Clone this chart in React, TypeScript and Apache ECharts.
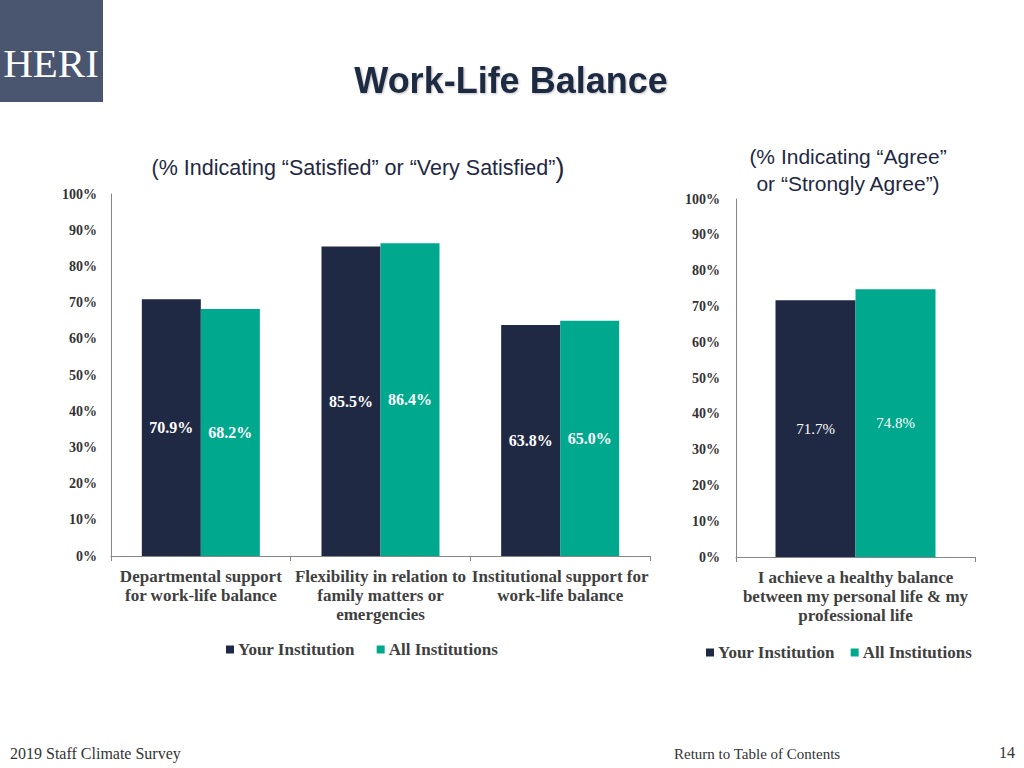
import React, { useEffect, useRef } from "react";
import * as echarts from "echarts";

const leftCategories = [
  "Departmental support\nfor work-life balance",
  "Flexibility in relation to\nfamily matters or\nemergencies",
  "Institutional support for\nwork-life balance",
];
const leftYour = [70.9, 85.5, 63.8];
const leftAll = [68.2, 86.4, 65.0];

const rightCategories = [
  "I achieve a healthy balance\nbetween my personal life & my\nprofessional life",
];
const rightYour = [71.7];
const rightAll = [74.8];

const seriesNames = ["Your Institution", "All Institutions"];

const NAVY = "#1f2943";
const TEAL = "#00a88e";
const AXIS = "#868686";
const TXT = "#404040";
const SERIF = "'Liberation Serif', 'DejaVu Serif', serif";
const SANS = "'Liberation Sans', Arial, sans-serif";

export default function App() {
  const ref = useRef<HTMLDivElement>(null);

  useEffect(() => {
    if (!ref.current) return;
    const chart = echarts.init(ref.current, undefined, { renderer: "svg" });

    const yAxisBase = (grid: number, margin: number) => ({
      type: "value",
      gridIndex: grid,
      min: 0,
      max: 100,
      interval: 10,
      axisLine: { show: true, lineStyle: { color: AXIS, width: 1 } },
      axisTick: { show: false },
      splitLine: { show: false },
      axisLabel: {
        formatter: "{value}%",
        fontFamily: SERIF,
        fontWeight: "bold",
        fontSize: 14,
        color: "#333333",
        margin,
      },
    });

    const xAxisBase = (grid: number, data: string[]) => ({
      type: "category",
      gridIndex: grid,
      data,
      axisLine: { show: true, lineStyle: { color: AXIS, width: 1 } },
      axisTick: { show: true, length: 5, lineStyle: { color: AXIS } },
      axisLabel: {
        interval: 0,
        fontFamily: SERIF,
        fontWeight: "bold",
        fontSize: 17,
        lineHeight: 19,
        color: TXT,
        margin: 11,
      },
    });

    const label = (bold: boolean, size: number) => ({
      show: true,
      position: "inside",
      color: "#ffffff",
      fontFamily: SERIF,
      fontWeight: bold ? "bold" : "normal",
      fontSize: size,
      formatter: (p: any) => Number(p.value).toFixed(1) + "%",
    });

    const legendBase = (left: number, top: number, gap: number) => ({
      left,
      top,
      orient: "horizontal",
      data: seriesNames,
      icon: "rect",
      itemWidth: 8,
      itemHeight: 8,
      itemGap: gap,
      selectedMode: false,
      textStyle: {
        fontFamily: SERIF,
        fontWeight: "bold",
        fontSize: 17,
        color: TXT,
        padding: [0, 0, 0, -1],
      },
    });

    chart.setOption({
      animation: false,
      backgroundColor: "#ffffff",
      grid: [
        { left: 111, top: 194, width: 539, height: 362 },
        { left: 736, top: 199, width: 239, height: 358 },
      ],
      xAxis: [xAxisBase(0, leftCategories), xAxisBase(1, rightCategories)],
      yAxis: [yAxisBase(0, 14), yAxisBase(1, 16)],
      legend: [legendBase(221, 636, 22), legendBase(701, 639, 16)],
      series: [
        {
          name: seriesNames[0],
          type: "bar",
          xAxisIndex: 0,
          yAxisIndex: 0,
          data: leftYour,
          barWidth: 59,
          barGap: "0%",
          itemStyle: { color: NAVY },
          label: label(true, 16),
        },
        {
          name: seriesNames[1],
          type: "bar",
          xAxisIndex: 0,
          yAxisIndex: 0,
          data: leftAll,
          barWidth: 59,
          barGap: "0%",
          itemStyle: { color: TEAL },
          label: label(true, 16),
        },
        {
          name: seriesNames[0],
          type: "bar",
          xAxisIndex: 1,
          yAxisIndex: 1,
          data: rightYour,
          barWidth: 80,
          barGap: "0%",
          itemStyle: { color: NAVY },
          label: label(false, 15),
        },
        {
          name: seriesNames[1],
          type: "bar",
          xAxisIndex: 1,
          yAxisIndex: 1,
          data: rightAll,
          barWidth: 80,
          barGap: "0%",
          itemStyle: { color: TEAL },
          label: label(false, 15),
        },
      ],
      graphic: [
        {
          type: "rect",
          left: 0,
          top: 0,
          shape: { x: 0, y: 0, width: 103, height: 102 },
          style: { fill: "#4a5570" },
        },
        {
          type: "text",
          x: 51,
          y: 63,
          style: {
            text: "HERI",
            fill: "#ffffff",
            font: `41px ${SERIF}`,
            textAlign: "center",
            textVerticalAlign: "middle",
          },
        },
        {
          type: "text",
          x: 511,
          y: 80,
          style: {
            text: "Work-Life Balance",
            fill: "#1f2943",
            font: `bold 36px ${SANS}`,
            textAlign: "center",
            textVerticalAlign: "middle",
            textShadowColor: "rgba(0,0,0,0.25)",
            textShadowBlur: 2,
            textShadowOffsetX: 1,
            textShadowOffsetY: 1,
          },
        },
        {
          type: "text",
          x: 358,
          y: 168,
          style: {
            text: "{a|(% Indicating \u201cSatisfied\u201d or \u201cVery Satisfied\u201d}{b|)}",
            textAlign: "center",
            textVerticalAlign: "middle",
            rich: {
              a: { fontFamily: SANS, fontSize: 21.5, fill: "#1f2943", color: "#1f2943" },
              b: { fontFamily: SANS, fontSize: 27, fill: "#1f2943", color: "#1f2943" },
            },
          },
        },
        {
          type: "text",
          x: 848,
          y: 170,
          style: {
            text: "(% Indicating \u201cAgree\u201d\nor \u201cStrongly Agree\u201d)",
            fill: "#1f2943",
            font: `21px ${SANS}`,
            lineHeight: 27,
            textAlign: "center",
            textVerticalAlign: "middle",
          },
        },
        {
          type: "text",
          x: 10,
          y: 753,
          style: {
            text: "2019 Staff Climate Survey",
            fill: "#333333",
            font: `16px ${SERIF}`,
            textAlign: "left",
            textVerticalAlign: "middle",
          },
        },
        {
          type: "text",
          x: 674,
          y: 754,
          style: {
            text: "Return to Table of Contents",
            fill: "#333333",
            font: `15px ${SERIF}`,
            textAlign: "left",
            textVerticalAlign: "middle",
          },
        },
        {
          type: "text",
          x: 1015,
          y: 752,
          style: {
            text: "14",
            fill: "#333333",
            font: `16px ${SERIF}`,
            textAlign: "right",
            textVerticalAlign: "middle",
          },
        },
      ],
    });

    return () => chart.dispose();
  }, []);

  return (
    <div
      ref={ref}
      style={{ position: "absolute", left: 0, top: 0, width: 1024, height: 768 }}
    />
  );
}
